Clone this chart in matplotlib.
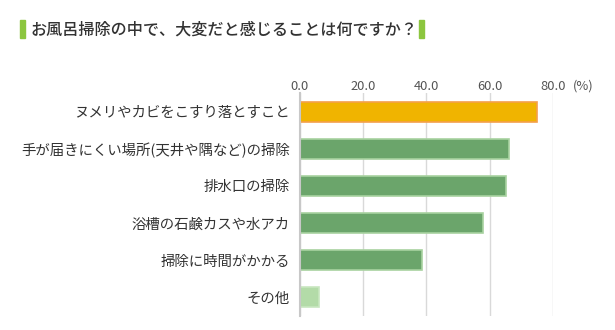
import matplotlib
matplotlib.use("Agg")
import matplotlib.pyplot as plt
from matplotlib.patches import Rectangle

plt.rcParams['font.family'] = ['Noto Sans CJK JP', 'DejaVu Sans']

title = "お風呂掃除の中で、大変だと感じることは何ですか？"
categories = [
    "ヌメリやカビをこすり落とすこと",
    "手が届きにくい場所(天井や隅など)の掃除",
    "排水口の掃除",
    "浴槽の石鹸カスや水アカ",
    "掃除に時間がかかる",
    "その他",
]
values = [74.8, 65.9, 65.0, 57.9, 38.7, 6.2]
xticks = [0, 20, 40, 60, 80]
xtick_labels = ["0.0", "20.0", "40.0", "60.0", "80.0"]

face_colors = ["#F0B400", "#6BA56B", "#6BA56B", "#6BA56B", "#6BA56B", "#B3DBA8"]
edge_colors = ["#F4A04A", "#A8D2A0", "#A8D2A0", "#A8D2A0", "#A8D2A0", "#C8E6C0"]

W, H = 615, 330
fig = plt.figure(figsize=(W / 100, H / 100), dpi=100)

left, right, top, bottom = 299.5, 553.3, 93, 316
ax = fig.add_axes([left / W, 1 - bottom / H, (right - left) / W, (bottom - top) / H])

ypos = list(range(len(categories)))
ax.barh(ypos, values, height=0.54, color=face_colors, edgecolor=edge_colors,
        linewidth=1.2, zorder=3)
ax.set_ylim(len(categories) - 0.5, -0.5)
ax.set_xlim(0, 80)

ax.set_xticks(xticks)
ax.set_xticklabels(xtick_labels)
ax.xaxis.tick_top()
ax.tick_params(axis='x', length=0, pad=0, labelsize=9.3, labelcolor="#555555")
ax.set_yticks(ypos)
ax.set_yticklabels(categories)
ax.tick_params(axis='y', length=0, pad=7, labelsize=10.4, labelcolor="#333333")

ax.grid(axis='x', color="#D9D9D9", linewidth=1.0, zorder=0)
for s in ["top", "right", "bottom"]:
    ax.spines[s].set_visible(False)
ax.spines["left"].set_color("#C8C8C8")
ax.spines["left"].set_linewidth(1.5)
ax.spines["left"].set_zorder(4)

fig.text(573 / W, 1 - 86 / H, "(%)", fontsize=9.3, color="#555555",
         ha="left", va="center")

# title with green markers on either side
fig.text(31 / W, 1 - 30 / H, title, fontsize=11.6, fontweight="medium",
         color="#333333", ha="left", va="center")
fig.patches.append(Rectangle((20 / W, 1 - 38 / H), 5 / W, 18 / H,
                             transform=fig.transFigure, color="#8CC63F"))
fig.patches.append(Rectangle((419 / W, 1 - 38 / H), 5 / W, 18 / H,
                             transform=fig.transFigure, color="#8CC63F"))

fig.savefig("out.png", dpi=100, facecolor="white")
